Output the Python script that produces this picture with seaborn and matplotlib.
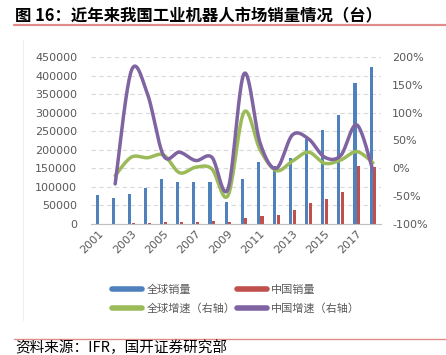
import numpy as np
import pandas as pd
import matplotlib
matplotlib.use("Agg")
import matplotlib.pyplot as plt
from matplotlib.lines import Line2D
import seaborn as sns

# ---------------- data ----------------
years = [str(y) for y in range(2001, 2019)]
global_sales = [78000, 69000, 81000, 97000, 120000, 112000, 114000, 113000, 60000,
                121000, 166000, 155000, 178000, 229000, 254000, 294000, 381000, 422000]
china_sales = [500, 800, 1500, 3000, 4500, 5800, 6600, 7900, 5500,
               14900, 22600, 23000, 36600, 57000, 68500, 87000, 156000, 154000]
growth_years = years[1:]
global_growth = [-13, 20, 19, 24, -8, 2, -1, -49, 101, 33, -4, 13, 29, 9, 15, 30, 10]
china_growth = [-28, 175, 134, 23, 29, 14, 20, -37, 170, 45, 0, 60, 53, 20, 23, 78, -4]
left_ticks = [0, 50000, 100000, 150000, 200000, 250000, 300000, 350000, 400000, 450000]
right_ticks = [-100, -50, 0, 50, 100, 150, 200]
xtick_labels = ["2001", "2003", "2005", "2007", "2009", "2011", "2013", "2015", "2017"]

labels_series = ["全球销量", "中国销量", "全球增速（右轴）", "中国增速（右轴）"]
colors = ["#4F81BD", "#C0504D", "#9BBB59", "#8064A2"]

# ---------------- style ----------------
sns.set_theme(style="white")
plt.rcParams["font.family"] = ["DejaVu Sans", "Noto Sans CJK SC"]
GRAY = "#595959"
CJK = ["Noto Sans CJK SC", "DejaVu Sans"]

W, H = 446, 355
fig = plt.figure(figsize=(W / 100, H / 100), dpi=100)
L, R, T, B = 91, 381, 57, 224
ax = fig.add_axes([L / W, 1 - B / H, (R - L) / W, (B - T) / H])

# bars
df = pd.DataFrame({
    "year": years * 2,
    "value": global_sales + china_sales,
    "series": [labels_series[0]] * len(years) + [labels_series[1]] * len(years),
})
sns.barplot(data=df, x="year", y="value", hue="series", order=years,
            hue_order=labels_series[:2], palette=colors[:2], width=0.46, gap=0.15,
            saturation=1, legend=False, edgecolor="none", linewidth=0, ax=ax)
ax.set_xlim(-0.5, len(years) - 0.5)
ax.set_ylim(0, 450000)
ax.set_yticks(left_ticks)
ax.set_yticklabels([str(v) for v in left_ticks])
ax.yaxis.grid(True, color="#D9D9D9", linestyle=(0, (4, 3)), linewidth=0.8)
ax.set_axisbelow(True)
for s in ["top", "right", "left"]:
    ax.spines[s].set_visible(False)
ax.spines["bottom"].set_color("#BFBFBF")
ax.spines["bottom"].set_linewidth(0.8)
ax.set_xlabel("")
ax.set_ylabel("")
ax.tick_params(axis="y", length=0, pad=10, labelsize=8, labelcolor=GRAY)

# x ticks: marks at boundaries every 2 categories, labels at odd years
ax.set_xticks([i - 0.5 for i in range(0, len(years) + 1, 2)], minor=False)
ax.set_xticklabels([""] * len(ax.get_xticks()))
ax.tick_params(axis="x", length=3, color="#BFBFBF", width=0.8)
for lab in xtick_labels:
    i = years.index(lab)
    ax.text(i + 0.2, -0.045, lab, transform=ax.get_xaxis_transform(),
            rotation=45, rotation_mode="anchor", ha="right", va="center",
            fontsize=8, color=GRAY)

# lines on right axis (Excel-like smoothed curves)
def smooth(xs, ys, n=24):
    pts = np.column_stack([xs, ys]).astype(float)
    out = []
    for i in range(len(pts) - 1):
        p0 = pts[i - 1] if i > 0 else pts[i]
        p1, p2 = pts[i], pts[i + 1]
        p3 = pts[i + 2] if i + 2 < len(pts) else pts[i + 1]
        t = np.linspace(0, 1, n)[:, None]
        seg = 0.5 * (2 * p1 + (-p0 + p2) * t + (2 * p0 - 5 * p1 + 4 * p2 - p3) * t ** 2
                     + (-p0 + 3 * p1 - 3 * p2 + p3) * t ** 3)
        out.append(seg if i == 0 else seg[1:])
    out = np.vstack(out)
    return out[:, 0], out[:, 1]

ax2 = ax.twinx()
gx = [years.index(y) for y in growth_years]
sx, sy = smooth(gx, global_growth)
ax2.plot(sx, sy, color=colors[2], lw=2.5, solid_capstyle="round")
sx, sy = smooth(gx, china_growth)
ax2.plot(sx, sy, color=colors[3], lw=2.5, solid_capstyle="round")
ax2.set_ylim(-100, 200)
ax2.set_yticks(right_ticks)
ax2.set_yticklabels([f"{v}%" for v in right_ticks])
ax2.tick_params(axis="y", length=0, pad=8, labelsize=8, labelcolor=GRAY)
for s in ["top", "right", "left", "bottom"]:
    ax2.spines[s].set_visible(False)
ax2.grid(False)
ax2.set_xlim(-0.5, len(years) - 0.5)

# legend
handles = [Line2D([], [], color=colors[0], lw=4),
           Line2D([], [], color=colors[2], lw=4),
           Line2D([], [], color=colors[1], lw=4),
           Line2D([], [], color=colors[3], lw=4)]
leg_labels = [labels_series[0], labels_series[2], labels_series[1], labels_series[3]]
fig.legend(handles, leg_labels, ncol=2, loc="upper left",
           bbox_to_anchor=(102 / W, 1 - 275 / H), frameon=False,
           handlelength=2.7, handletextpad=0.4, columnspacing=0.1,
           labelspacing=0.75, prop={"family": CJK, "size": 8},
           labelcolor=GRAY)

# title and source
fig.text(15 / W, 1 - 15 / H, "图 16：近年来我国工业机器人市场销量情况（台）",
         fontsize=11.8, fontweight="bold", family=CJK, va="center", ha="left",
         color="#000000")
fig.add_artist(Line2D([14 / W, 1], [1 - 25 / H, 1 - 25 / H], color="#E08A8A", lw=1.6))
fig.add_artist(Line2D([14 / W, 1], [1 - 339 / H, 1 - 339 / H], color="#E08A8A", lw=1.0))
fig.add_artist(Line2D([23 / W, 23 / W], [1 - 40 / H, 1 - 320 / H], color="#EEEEEE", lw=0.8))
fig.text(15 / W, 1 - 348 / H, "资料来源：IFR，国开证券研究部", fontsize=10.5,
         family=CJK, va="center", ha="left", color="#000000")

fig.savefig("out.png", dpi=100)
